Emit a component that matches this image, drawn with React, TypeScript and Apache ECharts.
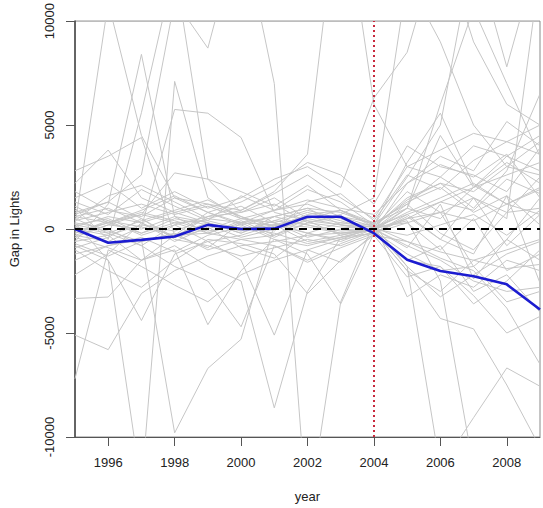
import React, { useEffect, useRef } from "react";
import * as echarts from "echarts";

const years = [1995, 1996, 1997, 1998, 1999, 2000, 2001, 2002, 2003, 2004, 2005, 2006, 2007, 2008, 2009];
const xTicks = [1996, 1998, 2000, 2002, 2004, 2006, 2008];
const yTicks = [-10000, -5000, 0, 5000, 10000];
const treatmentYear = 2004;

const treated = [0, -660, -520, -360, 200, 0, 20, 590, 590, -200, -1480, -2020, -2270, -2660, -3870];

const p01 = [200, 10900, 4500, 1500, 800, 300, 200, 600, 300, 100, 1500, 2200, 1800, 3000, 2600];
const p02 = [-600, 1200, 8400, 600, 300, -200, 400, 900, 500, -100, 2200, 3500, 2800, 5170, 4000];
const p03 = [2800, 3500, 4400, -300, -900, 300, 900, 1900, 1300, 200, 3200, 5570, 2100, 1200, 1900];
const p04 = [-300, -600, 100, 5750, 5570, 4400, 800, 400, -300, 100, 700, 1300, 900, 2400, 1700];
const p05 = [1100, 300, 700, 2700, 2400, 1800, 1100, 2100, 900, 100, -600, -1100, -1500, -1900, -1700];
const p06 = [800, 1300, 2600, 11000, 8700, 14700, 7000, -14000, -3500, 300, 1200, 2500, 1500, 800, 1000];
const p07 = [-1200, -800, -500, -9800, -6700, -5300, 200, -600, -300, 0, -800, -1500, -2500, -3000, -2800];
const p08 = [-800, -1500, -4400, -1200, -600, -300, 200, 100, -200, -100, -1200, -2000, -1800, -3500, -3000];
const p09 = [-400, -900, -1500, -1000, -4600, -2000, -500, -800, -400, 0, 800, 1500, 2200, 1200, 2000];
const p10 = [300, 0, -800, -1800, -2500, -4700, -800, -1500, -700, -100, -2000, -3000, -1500, -1000, -500];
const p11 = [0, -300, -1500, -800, -1800, -2500, -8600, -3000, -400, 0, 1000, 500, 2000, 3500, 4500];
const p12 = [500, -200, -800, 200, -600, -1500, -5100, -1000, -1600, -200, -1500, -800, -3000, -2200, -4000];
const p13 = [-200, 400, 100, -300, 800, 200, -500, -1200, -3600, -200, 600, -500, 1500, -800, 700];
const p14 = [-1000, -2000, -2800, -1500, -500, -700, -1200, -3100, -1500, -300, -2300, -1800, -3200, -5000, -4200];
const p15 = [-5100, -5800, -3100, -2000, -1300, -800, -600, -300, -200, 0, 1200, -200, -1000, 800, 2500];
const p16 = [-7200, -1000, -1800, -2700, -3500, -2200, -1500, -1000, -500, 100, 300, 800, -1800, -500, -1500];
const p17 = [-3340, -3270, -1500, -300, -200, 400, -300, 500, 200, 0, -1800, -3260, -2200, -1200, -600];
const p18 = [200, 500, -200, 300, 400, 0, 200, -200, 300, 200, -1800, -11500, -9070, -6680, -7560];
const p19 = [100, 600, 300, -400, 0, 500, 300, 800, 400, -100, -2000, -4300, -4800, -7500, -10500];
const p20 = [-300, 200, 700, 300, -200, 300, 600, 200, -200, 0, 400, -2500, -11500, -13000, -12000];
const p21 = [600, 1000, 300, 800, 1200, 600, 100, 700, 900, 300, -3260, -2200, -2800, -1500, -2000];
const p22 = [1500, 2200, 1000, 1800, 1000, 1500, 2400, 3000, 2000, 6300, 8500, 14000, 9000, 6000, 5000];
const p23 = [400, 800, 1200, 700, 1100, 500, 900, 1200, 600, 300, 1000, 6000, 10600, 7000, 3500];
const p24 = [-200, 300, 800, 400, -100, 200, 600, 1000, 800, 200, 2500, 5000, 13500, 7800, 13500];
const p25 = [600, 300, -200, 500, 200, -400, 0, 400, 200, 100, 1800, 800, 1500, 500, 12500];
const p26 = [1800, 900, 600, 1500, 1200, 900, 1700, 2600, 1500, 500, 3000, 3800, 4600, 4200, 5000];
const p27 = [-900, -400, 500, -500, -800, -1300, -900, -500, -800, -200, 500, 1300, 2000, 2600, 3200];
const p28 = [400, 1600, 2100, 1300, 500, 900, 1800, 3600, 16900, 6000, 3000, 2500, 4000, 3500, 2800];
const p29 = [-100, 300, 900, 1600, 800, 1300, 2100, 3200, 2600, 1200, 4000, 3000, 2600, 1800, 3900];
const p30 = [900, 400, -300, 200, 600, 1100, 300, -400, 0, -100, -1500, -1800, -3600, -2500, -1000];
const p31 = [-1500, -800, -400, -1100, -300, 100, -200, -700, -400, -200, 700, -500, -1200, 1600, -2600];
const p32 = [200, -100, -600, -300, 300, -100, 400, 200, -100, 0, 500, 800, 400, 1200, 700];
const p33 = [-400, 200, 0, 600, -200, -500, -300, 300, 100, 0, -300, 200, 700, -300, 900];
const p34 = [700, 1300, 500, -400, 600, 800, 1200, 300, 600, 100, 1400, 2200, 1000, 2800, 6500];
const p35 = [-700, -1300, -600, -200, -1000, -500, -800, -1600, -900, -300, -600, -1400, -2000, -3800, -6500];
const p36 = [100, -200, 400, 900, 1400, 600, -100, 1300, 1700, 400, 2600, 1900, 3300, 4200, 3600];
const p37 = [2200, 3800, 1500, 800, 300, -200, 600, 1000, 200, -100, 1000, 4500, 2000, 3200, 2200];
const p38 = [-2200, -1200, 300, -600, 100, -900, -1400, -200, -600, 0, -900, 1200, -2400, -500, 1500];
const p39 = [300, -1500, -12400, 7100, 1500, 500, 300, -200, -500, -200, 300, -1000, 500, -2000, -1200];
const p40 = [1000, -500, 5600, 12600, 2400, 800, 1500, 500, 900, 200, 1300, 2000, 800, 1600, 200];
const p41 = [-600, -300, 200, -100, 500, 300, -400, 300, 700, 1500, 12000, 9000, 5000, 3000, 4200];
const p42 = [1300, 700, 1900, 1100, 400, 1600, 900, 1400, 1000, 700, 2200, 3100, 2500, 3600, 1500];

const placebos = [p01, p02, p03, p04, p05, p06, p07, p08, p09, p10, p11, p12, p13, p14, p15, p16, p17, p18, p19, p20, p21,
  p22, p23, p24, p25, p26, p27, p28, p29, p30, p31, p32, p33, p34, p35, p36, p37, p38, p39, p40, p41, p42];

const pair = (vals: number[]) => years.map((y, i) => [y, vals[i]]);

export default function App() {
  const ref = useRef<HTMLDivElement>(null);
  useEffect(() => {
    if (!ref.current) return;
    const chart = echarts.init(ref.current, undefined, { renderer: "svg" });
    const font = "Liberation Sans, Arial, sans-serif";
    const series: any[] = placebos.map((p) => ({
      type: "line",
      data: pair(p),
      showSymbol: false,
      silent: true,
      z: 1,
      lineStyle: { color: "#c6c6c6", width: 1 },
    }));
    series.push({
      type: "line",
      data: pair(treated),
      showSymbol: false,
      silent: true,
      z: 3,
      lineStyle: { color: "#1c1cd0", width: 2.6 },
    });
    series.push({
      type: "line",
      data: [],
      z: 4,
      markLine: {
        silent: true,
        symbol: "none",
        label: { show: false },
        animation: false,
        data: [
          { yAxis: 0, lineStyle: { color: "#000", width: 2, type: [8, 6] } },
          { xAxis: treatmentYear, lineStyle: { color: "#c8283c", width: 2, type: [2, 3] } },
        ],
      },
    });
    chart.setOption({
      animation: false,
      grid: { left: 71, right: 3, top: 19, bottom: 70, show: true, borderColor: "#8a8a8a", borderWidth: 1 },
      xAxis: {
        type: "value",
        min: 1995,
        max: 2009,
        name: "year",
        nameLocation: "middle",
        nameGap: 53,
        nameTextStyle: { fontSize: 13, color: "#222", fontFamily: font },
        axisLine: { show: true, onZero: false, lineStyle: { color: "#555", width: 1 } },
        axisTick: { show: true, length: 9, inside: false, customValues: xTicks, lineStyle: { color: "#555", width: 1 } },
        axisLabel: { customValues: xTicks, fontSize: 13, color: "#222", margin: 19, fontFamily: font, formatter: (v: number) => String(v) },
        splitLine: { show: false },
      },
      yAxis: {
        type: "value",
        min: -10000,
        max: 10000,
        interval: 5000,
        name: "Gap in Lights",
        nameLocation: "middle",
        nameGap: 54,
        nameTextStyle: { fontSize: 13, color: "#222", fontFamily: font },
        axisLine: { show: true, onZero: false, lineStyle: { color: "#444", width: 1.5 } },
        axisTick: { show: true, length: 9, inside: false, customValues: yTicks, lineStyle: { color: "#555", width: 1 } },
        axisLabel: { rotate: 90, fontSize: 13, color: "#222", margin: 19, fontFamily: font, customValues: yTicks, formatter: (v: number) => String(v) },
        splitLine: { show: false },
      },
      series,
    });
    return () => chart.dispose();
  }, []);
  return <div ref={ref} style={{ position: "fixed", left: 0, top: 0, width: 543, height: 508, background: "#fff" }} />;
}
